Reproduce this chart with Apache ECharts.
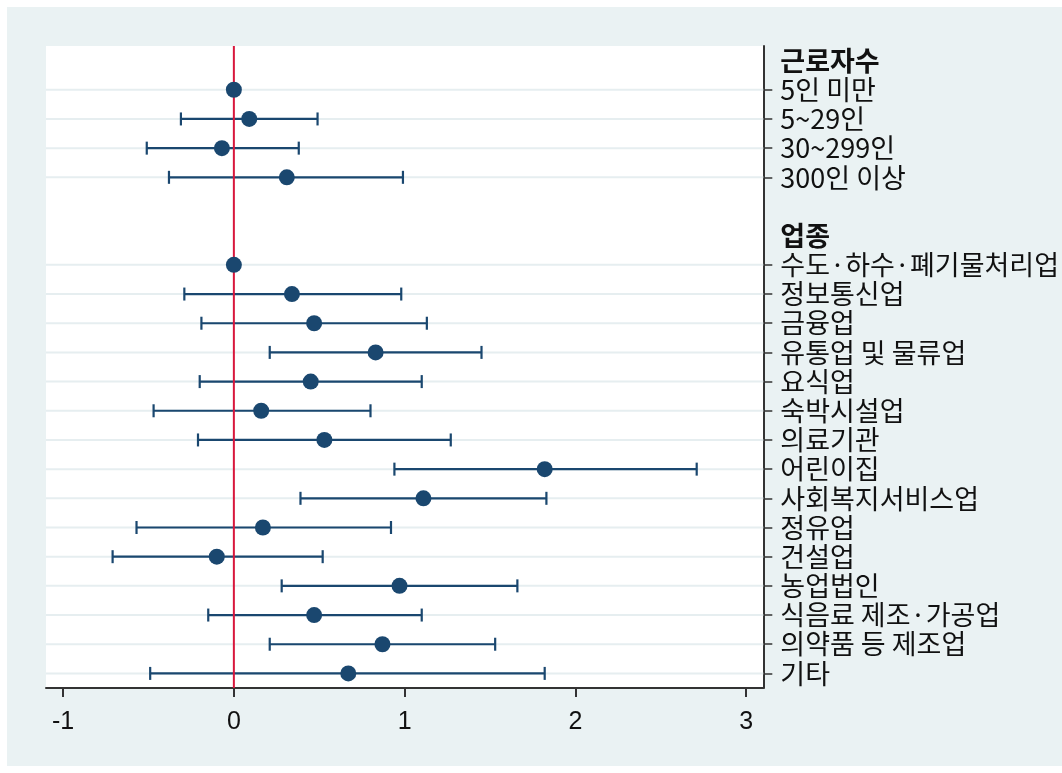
<!DOCTYPE html>
<html>
<head>
<meta charset="utf-8">
<script src="https://cdn.jsdelivr.net/npm/echarts@6/dist/echarts.min.js"></script>
<style>
  html, body { margin: 0; padding: 0; background: #ffffff; }
  #wrap { position: relative; width: 1062px; height: 773px; background: #ffffff; }
  #chart { position: absolute; left: 7px; top: 7px; width: 1055px; height: 759px; }
</style>
</head>
<body>
<div id="wrap"><div id="chart"></div></div>
<script>
// Rows of the coefficient plot, top to bottom (group headers and a spacer included)
const rowLabels = [
  '근로자수', '5인 미만', '5~29인', '30~299인', '300인 이상',
  '',
  '업종', '수도·하수·폐기물처리업', '정보통신업', '금융업', '유통업 및 물류업',
  '요식업', '숙박시설업', '의료기관', '어린이집', '사회복지서비스업',
  '정유업', '건설업', '농업법인', '식음료 제조·가공업', '의약품 등 제조업', '기타'
];
const groupHeaders = ['근로자수', '업종'];

// Estimated rows
const estLabels = [
  '5인 미만', '5~29인', '30~299인', '300인 이상',
  '수도·하수·폐기물처리업', '정보통신업', '금융업', '유통업 및 물류업',
  '요식업', '숙박시설업', '의료기관', '어린이집', '사회복지서비스업',
  '정유업', '건설업', '농업법인', '식음료 제조·가공업', '의약품 등 제조업', '기타'
];
const coef   = [0, 0.09, -0.07, 0.31, 0, 0.34, 0.47, 0.83, 0.45, 0.16, 0.53, 1.82, 1.11, 0.17, -0.10, 0.97, 0.47, 0.87, 0.67];
const ciLow  = [null, -0.31, -0.51, -0.38, null, -0.29, -0.19, 0.21, -0.20, -0.47, -0.21, 0.94, 0.39, -0.57, -0.71, 0.28, -0.15, 0.21, -0.49];
const ciHigh = [null, 0.49, 0.38, 0.99, null, 0.98, 1.13, 1.45, 1.10, 0.80, 1.27, 2.71, 1.83, 0.92, 0.52, 1.66, 1.10, 1.53, 1.82];

const xTicks = [-1, 0, 1, 2, 3];
const refLineX = 0;

const navy = '#1a476f';
const axisColor = '#333333';

const gridRows = estLabels.map(l => [0, l]);
const bars = [];
estLabels.forEach((l, i) => {
  if (ciLow[i] !== null && ciHigh[i] !== null) bars.push([l, ciLow[i], ciHigh[i]]);
});
const points = estLabels.map((l, i) => [coef[i], l]);

const chart = echarts.init(document.getElementById('chart'), null, { renderer: 'canvas' });

chart.setOption({
  backgroundColor: '#eaf2f3',
  animation: false,
  grid: {
    left: 39, top: 39, right: 296, bottom: 78,
    show: true, backgroundColor: '#ffffff', borderWidth: 0
  },
  xAxis: {
    type: 'value',
    min: -1.1, max: 3.1,
    axisLine: { show: true, lineStyle: { color: axisColor, width: 2 } },
    axisTick: { show: true, length: 9, customValues: xTicks, lineStyle: { color: axisColor, width: 2 } },
    axisLabel: {
      customValues: xTicks, margin: 22,
      fontFamily: 'Liberation Sans', fontSize: 25, color: '#111111'
    },
    splitLine: { show: false }
  },
  yAxis: {
    type: 'category',
    data: rowLabels,
    inverse: true,
    position: 'right',
    axisLine: { show: true, onZero: false, lineStyle: { color: axisColor, width: 2 } },
    axisTick: {
      show: true, alignWithLabel: true, length: 9,
      interval: (i, v) => v !== '' && !groupHeaders.includes(v),
      lineStyle: { color: axisColor, width: 1.5 }
    },
    axisLabel: {
      interval: 0, margin: 17,
      fontFamily: 'Noto Sans CJK KR', fontSize: 27, color: '#111111',
      formatter: v => groupHeaders.includes(v) ? '{h|' + v + '}' : v,
      rich: { h: { fontFamily: 'Noto Sans CJK KR', fontSize: 27, fontWeight: 'bold', color: '#111111' } }
    },
    splitLine: { show: false }
  },
  series: [
    {
      // faint horizontal guide at every estimated row
      type: 'custom',
      z: 1,
      silent: true,
      encode: { x: 0, y: 1 },
      data: gridRows,
      renderItem: (params, api) => {
        const y = api.coord([0, api.value(1)])[1];
        const cs = params.coordSys;
        return {
          type: 'line',
          shape: { x1: cs.x, y1: y, x2: cs.x + cs.width, y2: y },
          style: { stroke: '#e6eef0', lineWidth: 2 }
        };
      }
    },
    {
      // confidence intervals with end caps
      type: 'custom',
      z: 2,
      silent: true,
      encode: { y: 0, x: [1, 2] },
      data: bars,
      renderItem: (params, api) => {
        const cat = api.value(0);
        const p0 = api.coord([api.value(1), cat]);
        const p1 = api.coord([api.value(2), cat]);
        const cap = 6.5;
        const st = { stroke: navy, lineWidth: 2.2 };
        return {
          type: 'group',
          children: [
            { type: 'line', shape: { x1: p0[0], y1: p0[1], x2: p1[0], y2: p1[1] }, style: st },
            { type: 'line', shape: { x1: p0[0], y1: p0[1] - cap, x2: p0[0], y2: p0[1] + cap }, style: st },
            { type: 'line', shape: { x1: p1[0], y1: p1[1] - cap, x2: p1[0], y2: p1[1] + cap }, style: st }
          ]
        };
      }
    },
    {
      // vertical reference line at zero
      type: 'custom',
      z: 3,
      silent: true,
      encode: { x: 0, y: 1 },
      data: [[refLineX, rowLabels[0]]],
      renderItem: (params, api) => {
        const x = api.coord([api.value(0), api.value(1)])[0];
        const cs = params.coordSys;
        return {
          type: 'line',
          shape: { x1: x, y1: cs.y, x2: x, y2: cs.y + cs.height },
          style: { stroke: '#d8173c', lineWidth: 2 }
        };
      }
    },
    {
      type: 'scatter',
      z: 4,
      symbol: 'circle',
      symbolSize: 16,
      itemStyle: { color: navy, opacity: 1 },
      data: points
    }
  ]
});
</script>
</body>
</html>
